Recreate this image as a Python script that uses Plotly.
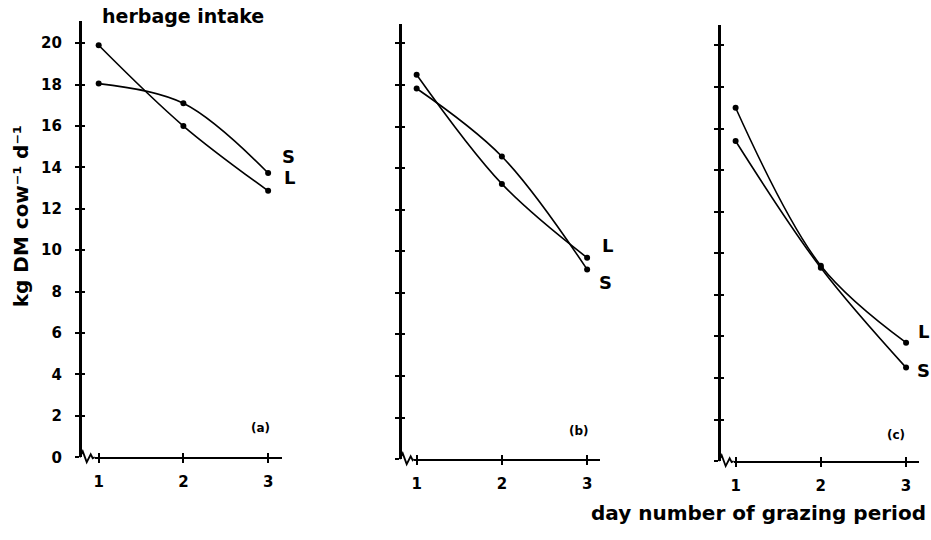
import plotly.graph_objects as go

# ---------------- data ----------------
days = [1, 2, 3]
a_S = [18.05, 17.1, 13.73]
a_L = [19.9, 16.0, 12.87]
b_S = [17.83, 14.56, 9.13]
b_L = [18.49, 13.24, 9.69]
c_S = [15.4, 9.3, 4.5]
c_L = [17.0, 9.4, 5.7]
y_ticks = [0, 2, 4, 6, 8, 10, 12, 14, 16, 18, 20]
x_ticks = [1, 2, 3]
panel_names = ["(a)", "(b)", "(c)"]

W, H = 931, 540
def X(p):
    return p / W
def Y(p):
    return 1 - p / H

FONT = "DejaVu Sans"
panels = [
    dict(ypos=77, xl=92, xr=280, yb=465, yt=21, xr_rng=[0.953, 3.165], yr_rng=[0, 21.09]),
    dict(ypos=398, xl=412, xr=599, yb=467, yt=24, xr_rng=[0.965, 3.152], yr_rng=[0, 20.95]),
    dict(ypos=718, xl=733, xr=919, yb=469, yt=25, xr_rng=[0.977, 3.152], yr_rng=[0, 21.0]),
]
series = [(a_S, a_L), (b_S, b_L), (c_S, c_L)]

fig = go.Figure()
layout = {}
shapes = []
for i, (p, (s, l)) in enumerate(zip(panels, series)):
    n = i + 1
    xa = f"x{n}" if n > 1 else "x"
    ya = f"y{n}" if n > 1 else "y"
    for vals in (s, l):
        fig.add_trace(go.Scatter(
            x=days, y=vals, xaxis=xa, yaxis=ya, mode="lines+markers",
            line=dict(color="black", width=1.6, shape="spline", smoothing=1.0),
            marker=dict(color="black", size=6), showlegend=False, cliponaxis=False,
        ))
    xdom = [X(p["xl"]), X(p["xr"])]
    ydom = [Y(p["yb"]), Y(p["yt"])]
    common_tick = dict(family=FONT, size=15, color="black", weight="bold")
    layout[f"xaxis{n}" if n > 1 else "xaxis"] = dict(
        domain=xdom, range=p["xr_rng"], anchor=ya, showgrid=False, zeroline=False,
        showline=True, linecolor="black", linewidth=2.2,
        tickmode="array", tickvals=x_ticks, ticktext=[str(t) for t in x_ticks],
        ticks="outside", ticklen=4, tickwidth=1.5, tickcolor="black",
        tickfont=common_tick, ticklabelstandoff=6,
    )
    layout[f"yaxis{n}" if n > 1 else "yaxis"] = dict(
        domain=ydom, range=p["yr_rng"], anchor="free", position=X(p["ypos"]),
        showgrid=False, zeroline=False,
        showline=True, linecolor="black", linewidth=2.6,
        tickmode="array", tickvals=y_ticks, ticktext=[str(t) for t in y_ticks],
        ticks="outside", ticklen=4, tickwidth=2, tickcolor="black",
        showticklabels=(n == 1), tickfont=common_tick, ticklabelstandoff=10,
    )
    nx = n + 3
    ny = n + 3
    layout[f"xaxis{nx}"] = dict(
        overlaying=xa, range=p["xr_rng"], anchor=ya, showgrid=False, zeroline=False,
        showline=False, tickmode="array", tickvals=x_ticks, ticks="inside",
        ticklen=4, tickwidth=1.5, tickcolor="black", showticklabels=False,
    )
    layout[f"yaxis{ny}"] = dict(
        overlaying=ya, range=p["yr_rng"], anchor="free", position=X(p["ypos"]),
        showgrid=False, zeroline=False, showline=False,
        tickmode="array", tickvals=y_ticks, ticks="inside",
        ticklen=4, tickwidth=2, tickcolor="black", showticklabels=False,
    )
    x0 = p["ypos"]
    yb = p["yb"]
    pts = [(x0, yb), (x0 + 3, yb - 6), (x0 + 7, yb + 5), (x0 + 11, yb - 3),
           (x0 + 13, yb + 1), (p["xl"], yb)]
    path = "M " + " L ".join(f"{X(a):.5f},{Y(b):.5f}" for a, b in pts)
    shapes.append(dict(type="path", path=path, xref="paper", yref="paper",
                       line=dict(color="black", width=1.8)))

for n in (4, 5, 6):
    fig.add_trace(go.Scatter(x=[None], y=[None], xaxis=f"x{n}", yaxis=f"y{n}",
                             showlegend=False, hoverinfo="skip"))

bold = dict(family=FONT, color="black", weight="bold")
ann = []
def txt(text, x, y, size, **kw):
    ann.append(dict(text=text, x=X(x), y=Y(y), xref="paper", yref="paper",
                    showarrow=False, font=dict(size=size, **bold),
                    xanchor=kw.pop("xanchor", "center"), yanchor="middle", **kw))

txt("herbage intake", 97, 16, 19, xanchor="left")
txt("kg DM cow\u207b\u00b9 d\u207b\u00b9", 18, 220, 20, textangle=-90)
txt("day number of grazing period", 928, 522, 20, xanchor="right")
txt("S", 286, 159, 18)
txt("L", 287, 181, 18)
txt("L", 606, 250, 18)
txt("S", 604, 287, 18)
txt("L", 923, 337, 18)
txt("S", 923, 377, 18)
txt(panel_names[0], 258, 435, 12)
txt(panel_names[1], 578, 438, 12)
txt(panel_names[2], 896, 442, 12)

fig.update_layout(
    width=W, height=H, margin=dict(l=0, r=0, t=0, b=0),
    paper_bgcolor="white", plot_bgcolor="rgba(0,0,0,0)",
    annotations=ann, shapes=shapes, **layout,
)
fig.write_html("out.html")
